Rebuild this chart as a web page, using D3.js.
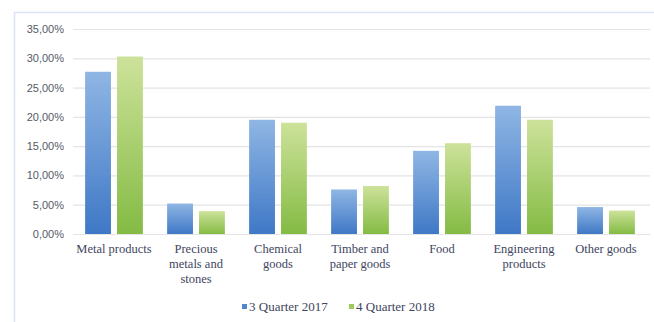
<!DOCTYPE html>
<html>
<head>
<meta charset="utf-8">
<script src="https://cdn.jsdelivr.net/npm/d3@7"></script>
<style>
  body { margin: 0; background: #fff; }
  svg { display: block; }
</style>
</head>
<body>
<svg width="654" height="322"></svg>
<script>
var categories = ["Metal products", "Precious metals and stones", "Chemical goods",
  "Timber and paper goods", "Food", "Engineering products", "Other goods"];
var labelLines = [["Metal products"], ["Precious", "metals and", "stones"], ["Chemical", "goods"],
  ["Timber and", "paper goods"], ["Food"], ["Engineering", "products"], ["Other goods"]];
var seriesNames = ["3 Quarter 2017", "4 Quarter 2018"];
var q3_2017 = [27.7, 5.2, 19.5, 7.6, 14.2, 21.9, 4.6];
var q4_2018 = [30.3, 3.9, 19.0, 8.2, 15.5, 19.5, 4.0];
var yTicks = [0, 5, 10, 15, 20, 25, 30, 35];

var svg = d3.select("svg");
// note: "top" is taken by window.top, so use plot* names
var plotLeft = 73, plotRight = 647, plotTop = 29, plotBottom = 234;

// faint frame round the chart
svg.append("path")
  .attr("d", "M14.5,322V12.5H654")
  .attr("fill", "none")
  .attr("stroke", "#dbe3f5")
  .attr("stroke-width", 1.5);

var defs = svg.append("defs");
function grad(id, c1, c2) {
  var g = defs.append("linearGradient").attr("id", id)
    .attr("x1", 0).attr("y1", 0).attr("x2", 0).attr("y2", 1);
  g.append("stop").attr("offset", "0%").attr("stop-color", c1);
  g.append("stop").attr("offset", "100%").attr("stop-color", c2);
}
grad("gBlue", "#8fb6e4", "#3f78c6");
grad("gGreen", "#cde29a", "#84bb44");
var fills = ["url(#gBlue)", "url(#gGreen)"];
var legendColors = ["#4f86cc", "#9ccb5c"];

var x = d3.scaleBand().domain(categories).range([plotLeft, plotRight]).paddingInner(0).paddingOuter(0);
var x1 = d3.scaleBand().domain([0, 1]).range([0, x.bandwidth()]).paddingInner(0.19).paddingOuter(0.38);
var y = d3.scaleLinear().domain([0, 35]).range([plotBottom, plotTop]);

var yAxis = svg.append("g").attr("transform", "translate(" + plotLeft + ",0)")
  .call(d3.axisLeft(y).tickValues(yTicks).tickSize(-(plotRight - plotLeft + 3))
    .tickFormat(function(d) { return d3.format(".2f")(d).replace(".", ",") + "%"; }));
yAxis.select(".domain").remove();
yAxis.selectAll(".tick line").attr("stroke", "#e4e4e4").attr("stroke-width", 1.2);
yAxis.selectAll(".tick text")
  .attr("x", -9)
  .attr("fill", "#555a66")
  .style("font-family", "'Liberation Sans', Arial, sans-serif")
  .style("font-size", "11px");

var series = [q3_2017, q4_2018];
series.forEach(function(vals, s) {
  svg.append("g").selectAll("rect")
    .data(vals)
    .enter()
    .append("rect")
    .attr("x", function(d, i) { return x(categories[i]) + x1(s); })
    .attr("width", x1.bandwidth())
    .attr("y", function(d) { return y(d); })
    .attr("height", function(d) { return y(0) - y(d); })
    .attr("fill", fills[s]);
});

var lab = svg.append("g")
  .style("font-family", "'Liberation Serif', 'Times New Roman', serif")
  .style("font-size", "12.5px")
  .attr("fill", "#3e4560");
lab.selectAll("text")
  .data(labelLines)
  .enter()
  .append("text")
  .attr("text-anchor", "middle")
  .attr("transform", function(d, i) { return "translate(" + (x(categories[i]) + x.bandwidth() / 2) + "," + (plotBottom + 19) + ")"; })
  .selectAll("tspan")
  .data(function(d) { return d; })
  .enter()
  .append("tspan")
  .attr("x", 0)
  .attr("dy", function(d, i) { return i === 0 ? 0 : 15; })
  .text(function(d) { return d; });

var legend = svg.append("g")
  .style("font-family", "'Liberation Serif', 'Times New Roman', serif")
  .style("font-size", "13px")
  .attr("fill", "#3e4560");
var legX = [242, 349];
seriesNames.forEach(function(name, s) {
  legend.append("rect").attr("x", legX[s]).attr("y", 304).attr("width", 5).attr("height", 5)
    .attr("fill", legendColors[s]);
  legend.append("text").attr("x", legX[s] + 7).attr("y", 311).text(name);
});
</script>
</body>
</html>
